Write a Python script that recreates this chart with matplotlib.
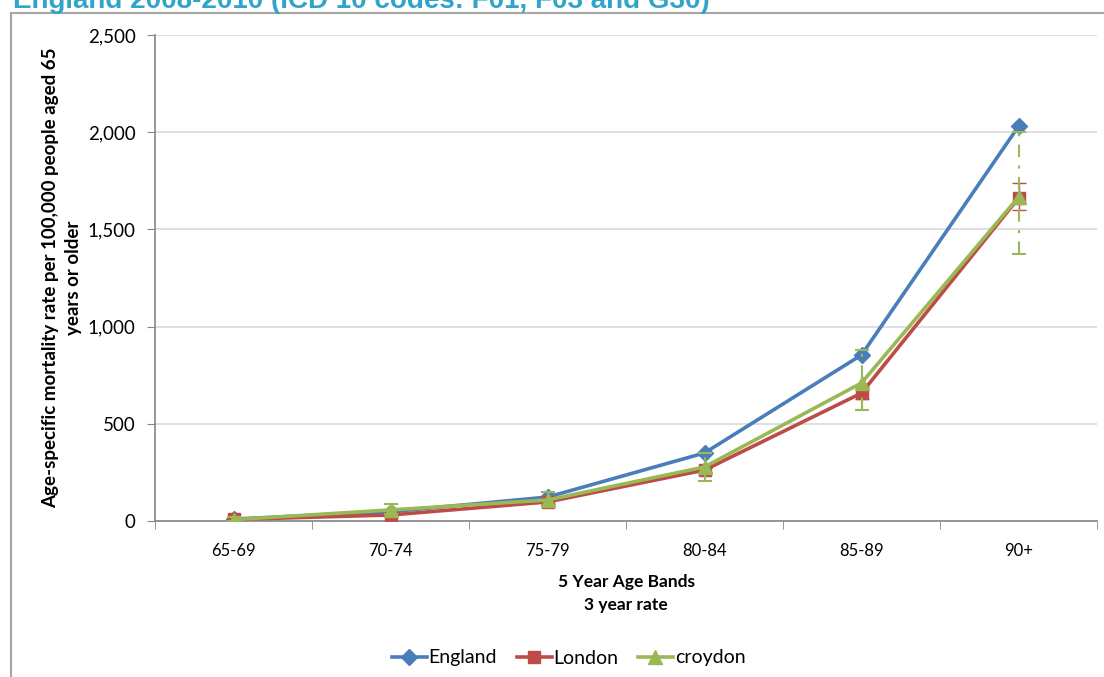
import matplotlib.pyplot as plt
from matplotlib.patches import Rectangle
import numpy as np

plt.rcParams['font.family'] = ['Lato', 'DejaVu Sans']

# Age bands and 3-year age-specific mortality rates per 100,000
bands = ["65-69", "70-74", "75-79", "80-84", "85-89", "90+"]
england = [10, 48, 123, 350, 854, 2030]
london = [8, 31, 98, 262, 658, 1661]
croydon = [7, 57, 108, 278, 710, 1666]

# 95% confidence limits
london_low = [4, 25, 90, 250, 630, 1600]
london_high = [12, 38, 106, 275, 690, 1739]
croydon_low = [0, 35, 75, 206, 571, 1373]
croydon_high = [20, 87, 150, 350, 880, 2000]

blue = "#4A7EBB"
red = "#BE4B48"
green = "#98B954"
axis_grey = "#868686"

fig = plt.figure(figsize=(11.04, 6.77), dpi=100)

# chart frame and title
fig.patches.append(Rectangle((11 / 1104, -0.1), 1.2, 1 - 13 / 677 + 0.1,
                             transform=fig.transFigure, fill=False,
                             edgecolor="#A6A6A6", linewidth=1.5))
fig.text(13 / 1104, 1 - 8 / 677, "England 2008-2010 (ICD 10 codes: F01, F03 and G30)",
         fontsize=20, fontweight="bold", color="#31A4C9",
         family="Liberation Sans", ha="left", va="baseline")

ax = fig.add_axes([155 / 1104, 1 - 521 / 677, 942 / 1104, 486 / 677])
x = np.arange(len(bands))

ax.plot(x, england, color=blue, lw=2.6, marker="D", ms=8, label="England", zorder=3)

ax.errorbar(x, london,
            yerr=[np.array(london) - np.array(london_low), np.array(london_high) - np.array(london)],
            fmt="none", ecolor=red, elinewidth=1, capsize=5, capthick=1, zorder=3)
ax.plot(x, london, color=red, lw=2.6, marker="s", ms=9, label="London", zorder=4)

eb = ax.errorbar(x, croydon,
                 yerr=[np.array(croydon) - np.array(croydon_low), np.array(croydon_high) - np.array(croydon)],
                 fmt="none", ecolor=green, elinewidth=1.5, capsize=5, capthick=1.5, zorder=4)
eb[2][0].set_linestyle((0, (6, 4, 1.5, 4)))
ax.plot(x, croydon, color=green, lw=2.6, marker="^", ms=10, label="croydon", zorder=5)

ax.set_xlim(-0.5, 5.5)
ax.set_ylim(0, 2500)
ax.set_yticks(np.arange(0, 2501, 500))
ax.set_yticklabels([f"{v:,}" for v in range(0, 2501, 500)])
ax.set_xticks(x)
ax.set_xticklabels(bands)
ax.set_xticks(np.arange(-0.5, 6, 1), minor=True)
ax.tick_params(axis="x", which="major", length=0, pad=16, labelsize=12)
ax.tick_params(axis="x", which="minor", length=6, color=axis_grey, direction="out")
ax.tick_params(axis="y", length=6, color=axis_grey, labelsize=13.5, pad=8)

ax.grid(axis="y", color="#D9D9D9", lw=1.2)
ax.set_axisbelow(True)
for side in ("top", "right"):
    ax.spines[side].set_visible(False)
for side in ("left", "bottom"):
    ax.spines[side].set_color(axis_grey)
    ax.spines[side].set_linewidth(1.2)

ax.set_xlabel("5 Year Age Bands\n3 year rate", fontsize=12.5, fontweight="bold",
              labelpad=11, linespacing=1.5)
ax.set_ylabel("Age-specific mortality rate per 100,000 people aged 65\nyears or older",
              fontsize=13.5, fontweight="bold", labelpad=4, linespacing=1.45)

fig.legend(loc="center", bbox_to_anchor=(0.515, 1 - 658 / 677), ncol=3, frameon=False,
           fontsize=14, handlelength=1.8, handletextpad=0.1, columnspacing=1.0)

fig.savefig("out.png", dpi=100)
